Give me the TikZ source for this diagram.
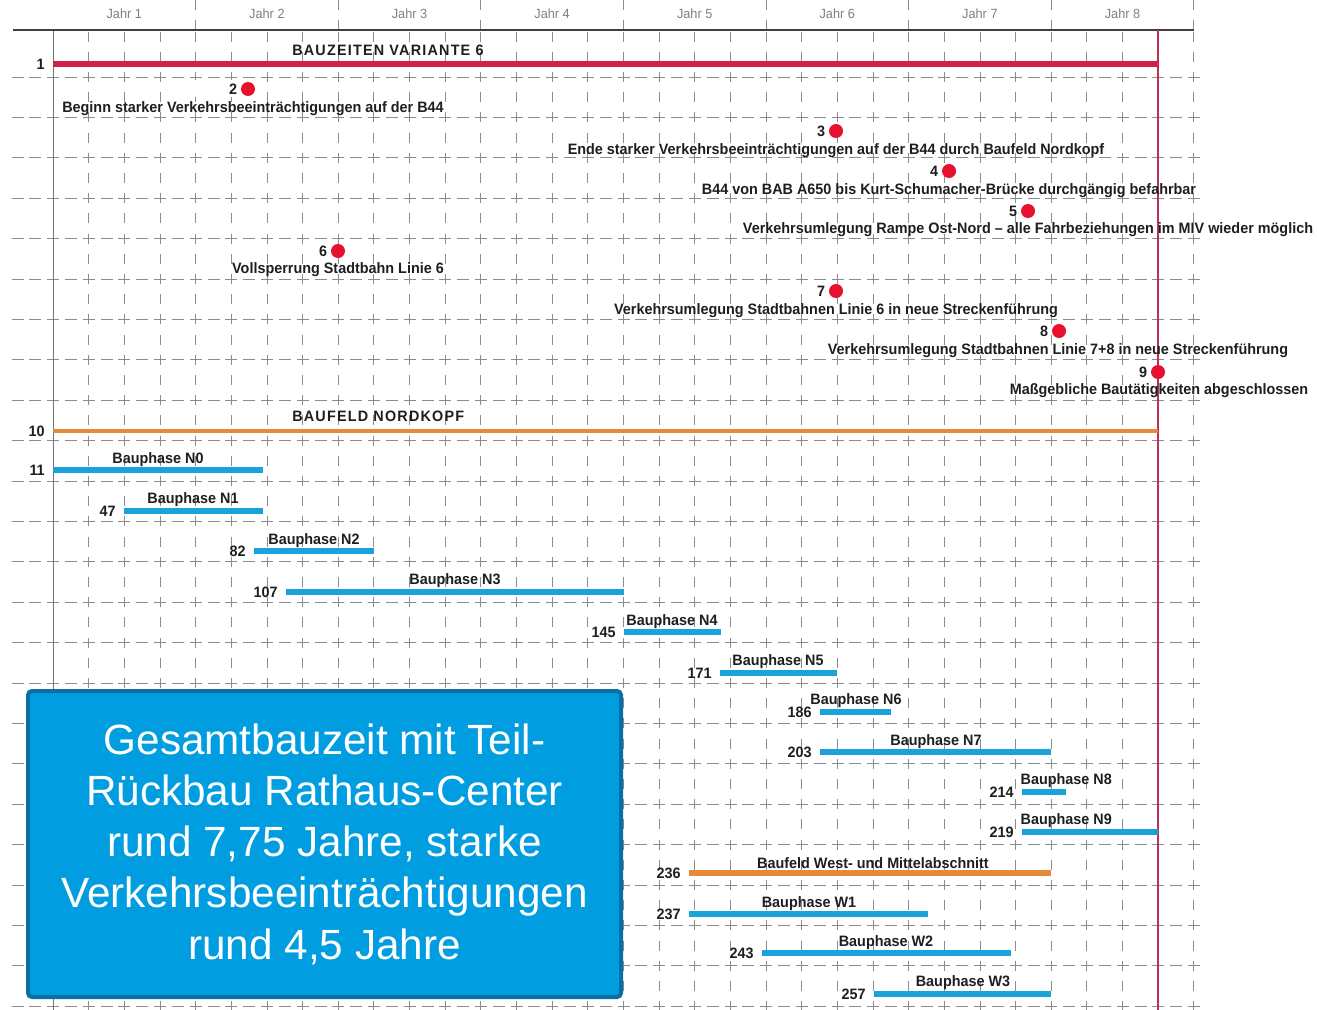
\documentclass[tikz,border=0pt]{standalone}
\usepackage{fontspec}
\setmainfont{Liberation Sans}
\newfontfamily\dinfont[FakeStretch=0.955]{Liberation Sans}
\newfontfamily\capsfont[FakeStretch=0.955,LetterSpace=8]{Liberation Sans}
\usetikzlibrary{positioning}

\definecolor{barred}{RGB}{208,32,72}
\definecolor{barorange}{RGB}{229,138,58}
\definecolor{barblue}{RGB}{26,162,219}
\definecolor{dotred}{RGB}{232,17,45}
\definecolor{endline}{RGB}{185,50,85}
\definecolor{boxfill}{RGB}{0,158,224}
\definecolor{boxline}{RGB}{12,110,165}
\definecolor{gridgray}{RGB}{140,140,140}
\definecolor{labelblack}{RGB}{30,30,30}

\begin{document}
\begin{tikzpicture}[
          x=0.75pt,
          y=-0.75pt,
          vline/.style={gridgray, line width=0.6pt, dash pattern=on 7.5pt off 7.65pt},
          hline/.style={gridgray, line width=0.6pt, dash pattern=on 9pt off 4.37pt},
          bar/.style={line width=4.1pt, barblue},
          lbl/.style={font=\dinfont\bfseries\fontsize{11.3}{13}\selectfont, text=labelblack, inner sep=1pt},
          txt/.style={lbl, yshift=-1.5pt},
          hd/.style={font=\capsfont\bfseries\fontsize{11.3}{13}\selectfont, text=labelblack, inner sep=0pt, anchor=west},
          ms/.style={circle, fill=dotred, minimum size=10.5pt, inner sep=0pt},
          yr/.style={font=\dinfont\fontsize{10}{12}\selectfont, text=gray},
        ]
      \useasboundingbox (0,0) rectangle (1317,1010);
      % grid
      \foreach \k in {0,...,32}
        \draw[vline] (53+35.65*\k, 31.6) -- (53+35.65*\k, 1010);
      \foreach \j in {0,...,23}
        \draw[hline] (11.5, 77+40.4*\j) -- (1200, 77+40.4*\j);
      \foreach \k in {1,...,8} {
        \draw[vline] (53+142.6*\k, 0) -- (53+142.6*\k, 30);
        \node[yr] (jahr\k) at (53+142.6*\k-71.3, 14) {Jahr \k};
      }
      \draw[line width=0.7pt, black!55] (53, 30) -- (53, 1010);
      \draw[line width=1.1pt, black!75] (13, 30) -- (1194, 30);
      \draw[endline, line width=0.9pt] (1158, 30) -- (1158, 1010);

      % overall
      \coordinate (v6s) at (53, 64);
      \coordinate (v6e) at (1158, 64);
      \draw[bar, barred, line width=4.6pt] (v6s) -- (v6e);
      \node[lbl, left=5pt of v6s] (v6n) {1};
      \node[hd] (v6t) at (292, 50) {BAUZEITEN VARIANTE 6};

      % milestones
      \fill[white] (185, 80) rectangle (241, 97);
      \node[ms] (m2) at (248, 89) {};
      \node[lbl, left=1.5pt of m2] (m2n) {2};
      \node[txt] (m2t) at (253, 107) {Beginn starker Verkehrsbeeinträchtigungen auf der B44};
      \node[ms] (m3) at (836, 131) {};
      \node[lbl, left=1.5pt of m3] (m3n) {3};
      \node[txt] (m3t) at (836, 149) {Ende starker Verkehrsbeeinträchtigungen auf der B44 durch Baufeld Nordkopf};
      \node[ms] (m4) at (949, 171) {};
      \node[lbl, left=1.5pt of m4] (m4n) {4};
      \node[txt] (m4t) at (949, 189) {B44 von BAB A650 bis Kurt-Schumacher-Brücke durchgängig befahrbar};
      \node[ms] (m5) at (1028, 211) {};
      \node[lbl, left=1.5pt of m5] (m5n) {5};
      \node[txt] (m5t) at (1028, 228) {Verkehrsumlegung Rampe Ost-Nord – alle Fahrbeziehungen im MIV wieder möglich};
      \node[ms] (m6) at (338, 251) {};
      \node[lbl, left=1.5pt of m6] (m6n) {6};
      \node[txt] (m6t) at (338, 268) {Vollsperrung Stadtbahn Linie 6};
      \node[ms] (m7) at (836, 291) {};
      \node[lbl, left=1.5pt of m7] (m7n) {7};
      \node[txt] (m7t) at (836, 309) {Verkehrsumlegung Stadtbahnen Linie 6 in neue Streckenführung};
      \node[ms] (m8) at (1059, 331) {};
      \node[lbl, left=1.5pt of m8] (m8n) {8};
      \node[txt] (m8t) at (1058, 349) {Verkehrsumlegung Stadtbahnen Linie 7+8 in neue Streckenführung};
      \node[ms] (m9) at (1158, 372) {};
      \node[lbl, left=1.5pt of m9] (m9n) {9};
      \node[txt] (m9t) at (1159, 389) {Maßgebliche Bautätigkeiten abgeschlossen};

      % baufeld nordkopf
      \coordinate (nks) at (53, 431);
      \coordinate (nke) at (1158, 431);
      \draw[bar, barorange, line width=3.4pt] (nks) -- (nke);
      \node[lbl, left=5pt of nks] (nkn) {10};
      \node[hd] (nkt) at (292, 416) {BAUFELD NORDKOPF};

      \coordinate (n0s) at (53, 470);
      \coordinate (n0e) at (263, 470);
      \draw[bar] (n0s) -- (n0e);
      \node[lbl, left=5pt of n0s] (n0n) {11};
      \node[txt] (n0t) at (158, 458) {Bauphase N0};

      \coordinate (n1s) at (124, 511);
      \coordinate (n1e) at (263, 511);
      \draw[bar] (n1s) -- (n1e);
      \node[lbl, left=5pt of n1s] (n1n) {47};
      \node[txt] (n1t) at (193, 498) {Bauphase N1};

      \coordinate (n2s) at (254, 551);
      \coordinate (n2e) at (374, 551);
      \draw[bar] (n2s) -- (n2e);
      \node[lbl, left=5pt of n2s] (n2n) {82};
      \node[txt] (n2t) at (314, 539) {Bauphase N2};

      \coordinate (n3s) at (286, 592);
      \coordinate (n3e) at (624, 592);
      \draw[bar] (n3s) -- (n3e);
      \node[lbl, left=5pt of n3s] (n3n) {107};
      \node[txt] (n3t) at (455, 579) {Bauphase N3};

      \coordinate (n4s) at (624, 632);
      \coordinate (n4e) at (721, 632);
      \draw[bar] (n4s) -- (n4e);
      \node[lbl, left=5pt of n4s] (n4n) {145};
      \node[txt] (n4t) at (672, 620) {Bauphase N4};

      \coordinate (n5s) at (720, 673);
      \coordinate (n5e) at (837, 673);
      \draw[bar] (n5s) -- (n5e);
      \node[lbl, left=5pt of n5s] (n5n) {171};
      \node[txt] (n5t) at (778, 660) {Bauphase N5};

      \coordinate (n6s) at (820, 712);
      \coordinate (n6e) at (891, 712);
      \draw[bar] (n6s) -- (n6e);
      \node[lbl, left=5pt of n6s] (n6n) {186};
      \node[txt] (n6t) at (856, 699) {Bauphase N6};

      \coordinate (n7s) at (820, 752);
      \coordinate (n7e) at (1051, 752);
      \draw[bar] (n7s) -- (n7e);
      \node[lbl, left=5pt of n7s] (n7n) {203};
      \node[txt] (n7t) at (936, 740) {Bauphase N7};

      \coordinate (n8s) at (1022, 792);
      \coordinate (n8e) at (1066, 792);
      \draw[bar] (n8s) -- (n8e);
      \node[lbl, left=5pt of n8s] (n8n) {214};
      \node[txt, anchor=west] (n8t) at (1019, 779) {Bauphase N8};

      \coordinate (n9s) at (1022, 832);
      \coordinate (n9e) at (1158, 832);
      \draw[bar] (n9s) -- (n9e);
      \node[lbl, left=5pt of n9s] (n9n) {219};
      \node[txt, anchor=west] (n9t) at (1019, 819) {Bauphase N9};

      % baufeld west
      \coordinate (wms) at (689, 873);
      \coordinate (wme) at (1051, 873);
      \draw[bar, barorange] (wms) -- (wme);
      \node[lbl, left=5pt of wms] (wmn) {236};
      \node[txt] (wmt) at (873, 861) {Baufeld West- und Mittelabschnitt};

      \coordinate (w1s) at (689, 914);
      \coordinate (w1e) at (928, 914);
      \draw[bar] (w1s) -- (w1e);
      \node[lbl, left=5pt of w1s] (w1n) {237};
      \node[txt] (w1t) at (809, 902) {Bauphase W1};

      \coordinate (w2s) at (762, 953);
      \coordinate (w2e) at (1011, 953);
      \draw[bar] (w2s) -- (w2e);
      \node[lbl, left=5pt of w2s] (w2n) {243};
      \node[txt] (w2t) at (886, 941) {Bauphase W2};

      \coordinate (w3s) at (874, 994);
      \coordinate (w3e) at (1051, 994);
      \draw[bar] (w3s) -- (w3e);
      \node[lbl, left=5pt of w3s] (w3n) {257};
      \node[txt] (w3t) at (963, 981) {Bauphase W3};

      % summary box
      \node[fill=boxfill, draw=boxline, line width=3pt, rounded corners=3pt,
            minimum width=444.75pt, minimum height=229.5pt, align=center,
            text=white, font=\fontsize{31.7}{38.4}\selectfont] (summary) at (324.5, 844)
            {Gesamtbauzeit mit Teil-\\Rückbau Rathaus-Center\\rund 7,75 Jahre, starke\\Verkehrsbeeinträchtigungen\\rund 4,5 Jahre};
    \end{tikzpicture}
\end{document}
